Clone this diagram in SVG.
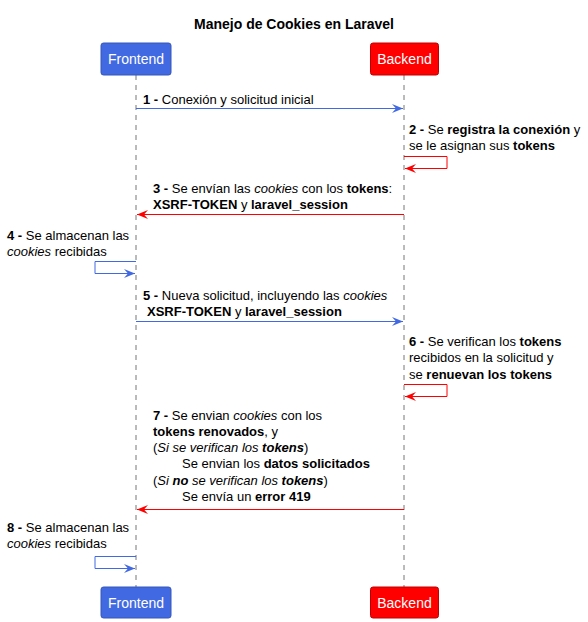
<svg xmlns="http://www.w3.org/2000/svg" width="588" height="622" viewBox="0 0 588 622">
<style>
text{font-family:"Liberation Sans",Arial,sans-serif;font-size:13px;fill:#000}
.title{font-size:14px;font-weight:bold}
.pt{font-size:14px;fill:#fff}
.b{font-weight:bold}
.i{font-style:italic}
.life{stroke:#777;stroke-width:1;stroke-dasharray:5,5;fill:none}
.blue{stroke:#4169E1;stroke-width:1;fill:none}
.red{stroke:#FF0000;stroke-width:1;fill:none}
.fb{fill:#4169E1;stroke:#3657b8;stroke-width:1}
.fr{fill:#FF0000;stroke:#c00000;stroke-width:1}
</style>
<defs>
<marker id="ab" viewBox="0 0 11 9" refX="11" refY="4.5" markerWidth="11" markerHeight="9" markerUnits="userSpaceOnUse" orient="auto"><polygon points="0,0 11,4.5 0,9 4,4.5" fill="#4169E1"/></marker>
<marker id="ar" viewBox="0 0 11 9" refX="11" refY="4.5" markerWidth="11" markerHeight="9" markerUnits="userSpaceOnUse" orient="auto"><polygon points="0,0 11,4.5 0,9 4,4.5" fill="#FF0000"/></marker>
</defs>
<rect width="588" height="622" fill="#fff"/>
<text class="title" x="294" y="29" text-anchor="middle">Manejo de Cookies en Laravel</text>
<g id="frontend">
<line class="life" x1="136" y1="75" x2="136" y2="587"/>
<rect class="fb" x="101" y="43" width="70" height="32" rx="2.5"/>
<text class="pt" x="136" y="64" text-anchor="middle">Frontend</text>
<rect class="fb" x="101" y="587" width="70" height="31" rx="2.5"/>
<text class="pt" x="136" y="608" text-anchor="middle">Frontend</text>
</g>
<g id="backend">
<line class="life" x1="404" y1="75" x2="404" y2="587"/>
<rect class="fr" x="370.5" y="43" width="68" height="32" rx="2.5"/>
<text class="pt" x="404.5" y="64" text-anchor="middle">Backend</text>
<rect class="fr" x="370.5" y="587" width="68" height="31" rx="2.5"/>
<text class="pt" x="404.5" y="608" text-anchor="middle">Backend</text>
</g>
<g id="connectors">
<g id="m1">
<line class="blue" x1="136" y1="108.5" x2="403" y2="108.5" marker-end="url(#ab)"/>
<text x="143" y="104"><tspan class="b">1 -</tspan> Conexión y solicitud inicial</text>
</g>
<g id="m2">
<polyline class="red" points="404,156.5 447,156.5 447,168.5 405,168.5" marker-end="url(#ar)"/>
<text x="409" y="134"><tspan class="b">2 -</tspan> Se <tspan class="b">registra la conexión</tspan> y</text>
<text x="409" y="150">se le asignan sus <tspan class="b">tokens</tspan></text>
</g>
<g id="m3">
<line class="red" x1="404" y1="214.5" x2="137" y2="214.5" marker-end="url(#ar)"/>
<text x="153" y="193"><tspan class="b">3 -</tspan> Se envían las <tspan class="i">cookies</tspan> con los <tspan class="b">tokens</tspan>:</text>
<text x="153" y="209"><tspan class="b">XSRF-TOKEN</tspan> y <tspan class="b">laravel_session</tspan></text>
</g>
<g id="m4">
<polyline class="blue" points="136,261.5 95,261.5 95,273.5 135,273.5" marker-end="url(#ab)"/>
<text x="7" y="240"><tspan class="b">4 -</tspan> Se almacenan las</text>
<text x="7" y="256"><tspan class="i">cookies</tspan> recibidas</text>
</g>
<g id="m5">
<line class="blue" x1="136" y1="321.5" x2="403" y2="321.5" marker-end="url(#ab)"/>
<text x="143" y="300"><tspan class="b">5 -</tspan> Nueva solicitud, incluyendo las <tspan class="i">cookies</tspan></text>
<text x="147" y="316"><tspan class="b">XSRF-TOKEN</tspan> y <tspan class="b">laravel_session</tspan></text>
</g>
<g id="m6">
<polyline class="red" points="404,384.5 447,384.5 447,396.5 405,396.5" marker-end="url(#ar)"/>
<text x="409" y="346"><tspan class="b">6 -</tspan> Se verifican los <tspan class="b">tokens</tspan></text>
<text x="409" y="362">recibidos en la solicitud y</text>
<text x="409" y="379">se <tspan class="b">renuevan los tokens</tspan></text>
</g>
<g id="m7">
<line class="red" x1="404" y1="509.5" x2="137" y2="509.5" marker-end="url(#ar)"/>
<text x="153" y="420"><tspan class="b">7 -</tspan> Se envian <tspan class="i">cookies</tspan> con los</text>
<text x="153" y="436"><tspan class="b">tokens renovados</tspan>, y</text>
<text x="153" y="452">(<tspan class="i">Si se verifican los </tspan><tspan class="b i">tokens</tspan>)</text>
<text x="182" y="468">Se envian los <tspan class="b">datos solicitados</tspan></text>
<text x="153" y="485">(<tspan class="i">Si </tspan><tspan class="b i">no</tspan><tspan class="i"> se verifican los </tspan><tspan class="b i">tokens</tspan>)</text>
<text x="182" y="501">Se envía un <tspan class="b">error 419</tspan></text>
</g>
<g id="m8">
<polyline class="blue" points="136,556.5 95,556.5 95,568.5 135,568.5" marker-end="url(#ab)"/>
<text x="7" y="532"><tspan class="b">8 -</tspan> Se almacenan las</text>
<text x="7" y="548"><tspan class="i">cookies</tspan> recibidas</text>
</g>
</g>
</svg>
